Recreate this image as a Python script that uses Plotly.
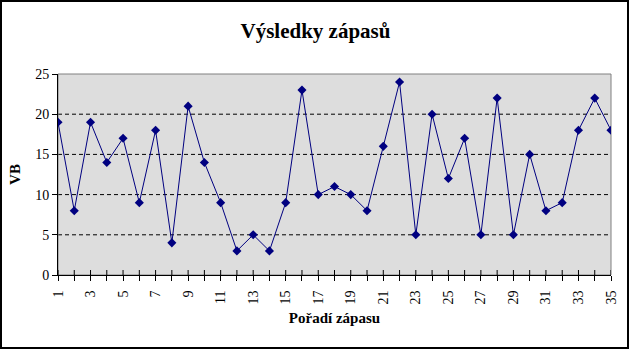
import plotly.graph_objects as go

matches = list(range(1, 36))
vb = [19, 8, 19, 14, 17, 9, 18, 4, 21, 14, 9, 3, 5, 3, 9, 23, 10, 11, 10, 8,
      16, 24, 5, 20, 12, 17, 5, 22, 5, 15, 8, 9, 18, 22, 18]
x_ticks = list(range(1, 36, 2))
y_ticks = [0, 5, 10, 15, 20, 25]

W, H = 631, 352
L, R, T, B = 58, 20, 74, 77
pw, ph = W - L - R, H - T - B

fig = go.Figure()
fig.add_trace(go.Scatter(
    x=matches, y=vb, mode="lines+markers",
    line=dict(color="#000080", width=1),
    marker=dict(symbol="diamond", size=7, color="#000080"),
    showlegend=False,
))

for g in [5, 10, 15, 20]:
    fig.add_shape(type="line", xref="paper", yref="y", x0=0, x1=1, y0=g, y1=g,
                  line=dict(color="black", width=1, dash="4px,3px"), layer="below")

# tick marks crossing above the x axis (upper half)
for m in matches:
    fig.add_shape(type="line", xref="x", yref="paper", x0=m, x1=m, y0=0, y1=5 / ph,
                  line=dict(color="black", width=1))

# outer chart frame
fig.add_shape(type="rect", xref="paper", yref="paper",
              x0=(1 - L) / pw, x1=(628 - L) / pw,
              y0=-(348 - (H - B)) / ph, y1=1 + (T - 1) / ph,
              line=dict(color="black", width=2), fillcolor="rgba(0,0,0,0)")
# gray border of plot area
fig.add_shape(type="rect", xref="paper", yref="paper", x0=0, x1=1, y0=0, y1=1,
              line=dict(color="#808080", width=1), layer="below")

fig.update_layout(
    width=W, height=H,
    margin=dict(l=L, r=R, t=T, b=B),
    paper_bgcolor="white",
    plot_bgcolor="#DDDDDD",
    font=dict(family="Liberation Serif, Times New Roman, serif", color="black", size=14),
    title=dict(text="<b>Výsledky zápasů</b>", x=0.5, xanchor="center",
               y=1 - 31 / H, yanchor="middle",
               font=dict(size=21, family="Liberation Serif, serif")),
    xaxis=dict(
        range=[1, 35], tickmode="array", tickvals=matches,
        ticktext=[str(m) if m in x_ticks else "" for m in matches],
        tickangle=-90, ticks="outside", ticklen=5, tickcolor="black",
        ticklabelstandoff=4,
        showline=True, linecolor="black", linewidth=1, showgrid=False,
        zeroline=False,
        title=dict(text="<b>Pořadí zápasu</b>", font=dict(size=15), standoff=8),
    ),
    yaxis=dict(
        range=[0, 25], tickmode="array", tickvals=y_ticks,
        ticks="outside", ticklen=5, tickcolor="black",
        showline=True, linecolor="black", linewidth=1, showgrid=False,
        zeroline=False,
        title=dict(text="<b>VB</b>", font=dict(size=15), standoff=10),
    ),
)

fig.write_html("out.html")
